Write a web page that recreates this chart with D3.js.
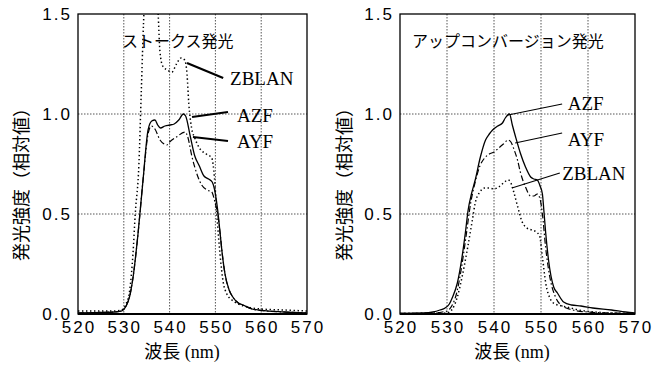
<!DOCTYPE html>
<html>
<head>
<meta charset="utf-8">
<script src="https://cdn.jsdelivr.net/npm/d3@7"></script>
<style>
  body { margin: 0; background: #fff; }
  svg { display: block; }
</style>
</head>
<body>
<svg id="chart" width="658" height="371"></svg>
<script>
// wavelength ticks and intensity ticks
var xTicks = [520, 530, 540, 550, 560, 570];
var yTicks = [0, 0.5, 1.0, 1.5];
var yTickLabels = ["0.0", "0.5", "1.0", "1.5"];

// Stokes emission (left panel) [nm, relative intensity]
var stokesAZF = [[520,0.005],[525,0.008],[528,0.01],[529.5,0.015],[530.5,0.04],[531.3,0.09],[532,0.18],[533.1,0.4],[534.2,0.67],[535.3,0.92],[536.1,0.965],[536.8,0.97],[537.4,0.945],[538,0.93],[539,0.94],[540,0.945],[541,0.95],[542,0.97],[543,1.0],[543.5,0.99],[544.5,0.89],[545.5,0.79],[546.5,0.74],[547.5,0.69],[548.5,0.675],[549.3,0.66],[550,0.6],[550.5,0.52],[551,0.41],[551.5,0.3],[552.1,0.2],[553,0.12],[553.8,0.085],[555,0.055],[556,0.045],[558,0.025],[560,0.018],[565,0.01],[570,0.005]];
var stokesAYF = [[520,0.005],[525,0.008],[528,0.01],[529.5,0.015],[530.5,0.04],[531.3,0.09],[532,0.18],[533.1,0.4],[534.2,0.67],[535.3,0.9],[536,0.94],[536.8,0.925],[537.9,0.87],[538.8,0.85],[539.4,0.845],[540,0.86],[541.5,0.885],[543.4,0.91],[543.9,0.89],[544.9,0.785],[546.2,0.685],[547,0.645],[548.2,0.62],[549.2,0.61],[550,0.55],[550.5,0.5],[551,0.41],[551.5,0.3],[552.1,0.2],[553,0.12],[553.8,0.085],[555,0.055],[556,0.045],[558,0.025],[560,0.018],[565,0.01],[570,0.005]];
var stokesZBLAN = [[520,0.015],[525,0.015],[528,0.015],[529.5,0.02],[530.5,0.05],[531.3,0.12],[532,0.3],[532.5,0.5],[533.3,0.75],[533.8,1.1],[534.3,1.45],[534.8,1.7],[536,1.8],[537,1.7],[537.5,1.5],[537.9,1.31],[538.5,1.24],[539.5,1.22],[540.5,1.21],[541.5,1.25],[542.5,1.28],[543.3,1.27],[543.8,1.2],[544.2,1.05],[544.8,0.93],[545.5,0.88],[546.5,0.83],[548,0.8],[549.2,0.78],[549.8,0.68],[550.3,0.5],[551,0.3],[551.7,0.16],[552.5,0.1],[553.6,0.07],[555,0.05],[557,0.035],[560,0.025],[565,0.02],[570,0.015]];

// up-conversion emission (right panel)
var upAZF = [[520,0.003],[525,0.005],[527,0.01],[528.5,0.02],[529.6,0.03],[530.5,0.05],[531.1,0.08],[532.2,0.155],[533.2,0.285],[533.9,0.405],[534.5,0.52],[535.2,0.6],[536,0.67],[537.1,0.785],[538.2,0.87],[539,0.9],[539.7,0.92],[540.8,0.94],[541.8,0.955],[542.4,0.98],[543.3,1.0],[543.9,0.945],[544.6,0.885],[545.6,0.805],[546.7,0.735],[547.8,0.685],[548.5,0.675],[549.2,0.67],[549.8,0.64],[550.3,0.6],[550.6,0.52],[551,0.405],[551.6,0.27],[552.7,0.135],[553.5,0.105],[554.8,0.06],[556.5,0.045],[558.5,0.04],[561,0.03],[565,0.02],[568,0.01],[570,0.005]];
var upAYF = [[520,0.003],[527,0.005],[529,0.01],[530,0.015],[531,0.04],[532,0.1],[533,0.22],[534,0.38],[535,0.55],[536,0.66],[537,0.74],[538,0.78],[539,0.8],[540,0.81],[541,0.83],[542,0.85],[543,0.87],[543.6,0.86],[544.3,0.82],[545,0.77],[545.6,0.71],[546.7,0.635],[547.8,0.59],[548.5,0.59],[549.2,0.6],[549.8,0.575],[550.3,0.5],[551,0.33],[552,0.17],[553,0.09],[554,0.05],[556,0.025],[560,0.01],[565,0.005],[570,0.003]];
var upZBLAN = [[520,0.003],[527,0.003],[530,0.005],[531,0.02],[532.2,0.085],[533.2,0.185],[534.3,0.32],[535.4,0.47],[536,0.555],[537,0.61],[538,0.63],[539,0.63],[540,0.625],[541,0.635],[542,0.655],[543,0.67],[543.5,0.66],[544.2,0.61],[545,0.54],[546,0.46],[547,0.43],[548,0.42],[549,0.41],[549.7,0.39],[550.3,0.285],[551,0.155],[552,0.075],[553,0.05],[554.5,0.04],[556.3,0.03],[558,0.02],[560.6,0.012],[565,0.005],[570,0.003]];

// label text and their leader lines, in data units: [x1, y1, x2, y2, textX, textY]
var stokesLabels = [
  ["ZBLAN", 543.8, 1.255, 551.7, 1.18, 553.2, 1.145],
  ["AZF",   544.9, 0.985, 552.75, 1.01, 554.7, 0.96],
  ["AYF",   545.1, 0.885, 552.75, 0.865, 554.7, 0.83]
];
var upLabels = [
  ["AZF",   543.0, 0.995, 554.5, 1.05, 555.7, 1.02],
  ["AYF",   544.5, 0.855, 554.5, 0.905, 555.7, 0.84],
  ["ZBLAN", 543.8, 0.63, 554.0, 0.705, 554.5, 0.67]
];

var svg = d3.select('#chart');
var plotTop = 14, plotBottom = 314;

var styles = {
  AZF:   { dash: null, width: 1.3 },
  AYF:   { dash: "6,2.5,1.5,2.5", width: 1.2 },
  ZBLAN: { dash: "1.4,2.6", width: 1.5 }
};

function drawPanel(id, left, right, title, titleDx, series, labels, leaderWidth, yTitleX, xTitleX) {
  var x = d3.scaleLinear().domain([520, 570]).range([left, right]);
  var y = d3.scaleLinear().domain([0, 1.5]).range([plotBottom, plotTop]);
  var g = svg.append('g');

  g.append('clipPath').attr('id', 'clip' + id)
    .append('rect')
    .attr('x', left).attr('y', plotTop)
    .attr('width', right - left).attr('height', plotBottom - plotTop);

  // grid
  g.selectAll('.vgrid')
    .data(xTicks.slice(1, -1))
    .enter()
    .append('line')
    .attr('x1', function (d) { return x(d); })
    .attr('x2', function (d) { return x(d); })
    .attr('y1', plotTop).attr('y2', plotBottom)
    .attr('stroke', '#555')
    .attr('stroke-width', 1)
    .attr('stroke-dasharray', '1.5,1.5');

  g.selectAll('.hgrid')
    .data(yTicks.slice(1, -1))
    .enter()
    .append('line')
    .attr('y1', function (d) { return y(d); })
    .attr('y2', function (d) { return y(d); })
    .attr('x1', left).attr('x2', right)
    .attr('stroke', '#555')
    .attr('stroke-width', 1)
    .attr('stroke-dasharray', '1.5,1.5');

  // curves
  var line = d3.line()
    .x(function (d) { return x(d[0]); })
    .y(function (d) { return y(d[1]); })
    .curve(d3.curveMonotoneX);

  series.forEach(function (s) {
    g.append('path')
      .attr('d', line(s.data))
      .attr('clip-path', 'url(#clip' + id + ')')
      .attr('fill', 'none')
      .attr('stroke', '#000')
      .attr('stroke-width', styles[s.name].width)
      .attr('stroke-dasharray', styles[s.name].dash);
  });

  // frame
  g.append('rect')
    .attr('x', left).attr('y', plotTop)
    .attr('width', right - left).attr('height', plotBottom - plotTop)
    .attr('fill', 'none')
    .attr('stroke', '#000')
    .attr('stroke-width', 1.3);
  g.append('line')
    .attr('x1', left).attr('x2', right)
    .attr('y1', plotBottom).attr('y2', plotBottom)
    .attr('stroke', '#000')
    .attr('stroke-width', 2);

  // tick labels
  g.selectAll('.ylab')
    .data(yTicks)
    .enter()
    .append('text')
    .attr('x', left - 6)
    .attr('y', function (d) { return y(d); })
    .attr('dy', '0.36em')
    .attr('text-anchor', 'end')
    .attr('font-family', '"Liberation Sans", Arial, sans-serif')
    .attr('font-size', 17)
    .attr('letter-spacing', 2)
    .text(function (d, i) { return yTickLabels[i]; });

  g.selectAll('.xlab')
    .data(xTicks)
    .enter()
    .append('text')
    .attr('x', function (d) { return x(d) + 1; })
    .attr('y', plotBottom + 19)
    .attr('text-anchor', 'middle')
    .attr('font-family', '"Liberation Sans", Arial, sans-serif')
    .attr('font-size', 17)
    .attr('letter-spacing', 2)
    .text(function (d) { return d; });

  // panel title
  g.append('text')
    .attr('x', left + titleDx)
    .attr('y', 47)
    .attr('font-family', '"Noto Sans CJK JP", sans-serif')
    .attr('font-size', 16)
    .text(title);

  // series labels with leaders
  labels.forEach(function (l) {
    g.append('line')
      .attr('x1', x(l[1])).attr('y1', y(l[2]))
      .attr('x2', x(l[3])).attr('y2', y(l[4]))
      .attr('stroke', '#000')
      .attr('stroke-width', leaderWidth);
    g.append('text')
      .attr('x', x(l[5])).attr('y', y(l[6]))
      .attr('font-family', '"Liberation Serif", "Times New Roman", serif')
      .attr('font-size', 19)
      .text(l[0]);
  });

  // axis titles
  g.append('text')
    .attr('transform', 'translate(' + yTitleX + ',' + ((plotTop + plotBottom) / 2 + 16) + ') rotate(-90)')
    .attr('text-anchor', 'middle')
    .attr('font-family', '"Noto Sans CJK JP", sans-serif')
    .attr('font-size', 18)
    .text('発光強度（相対値）');

  var xt = g.append('text')
    .attr('x', xTitleX)
    .attr('y', 358)
    .attr('text-anchor', 'middle')
    .attr('font-size', 18);
  xt.append('tspan')
    .attr('font-family', '"Noto Sans CJK JP", sans-serif')
    .text('波長');
  xt.append('tspan')
    .attr('font-family', '"Liberation Serif", "Times New Roman", serif')
    .text(' (nm)');
}

drawPanel('L', 78, 307, 'ストークス発光', 44,
  [{ name: 'AZF', data: stokesAZF }, { name: 'AYF', data: stokesAYF }, { name: 'ZBLAN', data: stokesZBLAN }],
  stokesLabels, 2.2, 28, 182);

drawPanel('R', 400, 635, 'アップコンバージョン発光', 12,
  [{ name: 'AZF', data: upAZF }, { name: 'AYF', data: upAYF }, { name: 'ZBLAN', data: upZBLAN }],
  upLabels, 1.2, 351, 512);
</script>
</body>
</html>
